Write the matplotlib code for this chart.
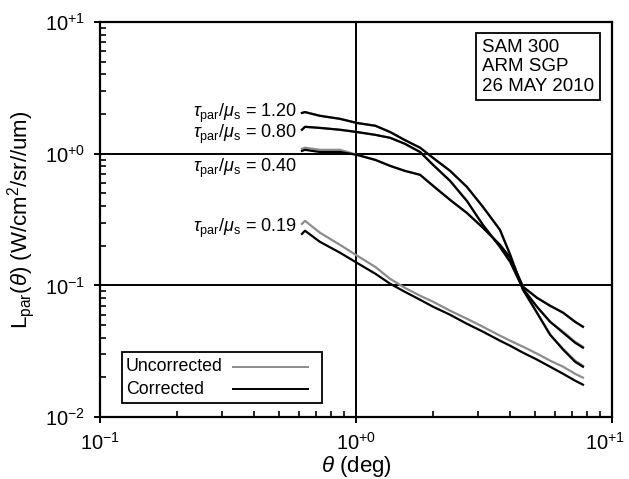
import matplotlib
matplotlib.use('Agg')
import matplotlib.pyplot as plt
from matplotlib.patches import Rectangle
from matplotlib.transforms import ScaledTranslation
from matplotlib.ticker import FixedLocator, FixedFormatter, LogLocator, NullFormatter

plt.rcParams['font.family'] = ['Liberation Sans', 'DejaVu Sans']
plt.rcParams['mathtext.fontset'] = 'custom'
plt.rcParams['mathtext.rm'] = 'Liberation Sans'
plt.rcParams['mathtext.it'] = 'Liberation Sans:italic'
plt.rcParams['mathtext.sf'] = 'Liberation Sans'

# scattering angle (deg), shared by every curve
theta = [0.615, 0.632, 0.723, 0.866, 1.01, 1.19, 1.36, 1.55, 1.78, 2.00, 2.33,
         2.71, 3.13, 3.65, 4.00, 4.49, 5.09, 5.73, 6.44, 7.17, 7.70]

# radiance, corrected
L120_corr = [2.04, 2.07, 1.94, 1.84, 1.71, 1.63, 1.46, 1.27, 1.11, 0.929, 0.741,
             0.560, 0.395, 0.264, 0.171, 0.0926, 0.0620, 0.0422, 0.0325, 0.0263, 0.0241]
L080_corr = [1.52, 1.60, 1.57, 1.52, 1.46, 1.39, 1.32, 1.19, 1.03, 0.822, 0.622,
             0.438, 0.288, 0.196, 0.151, 0.0942, 0.0688, 0.0529, 0.0437, 0.0367, 0.0336]
L040_corr = [1.05, 1.07, 1.03, 1.03, 0.979, 0.897, 0.808, 0.741, 0.691, 0.570, 0.446,
             0.355, 0.274, 0.203, 0.162, 0.0976, 0.0805, 0.0700, 0.0620, 0.0529, 0.0485]
L019_corr = [0.246, 0.260, 0.214, 0.177, 0.148, 0.1225, 0.1028, 0.0894, 0.0777, 0.0688, 0.0598,
             0.0511, 0.0445, 0.0380, 0.0348, 0.0308, 0.0273, 0.0241, 0.0213, 0.0189, 0.0176]

# radiance, uncorrected
L120_unc = [2.04, 2.07, 1.94, 1.84, 1.71, 1.63, 1.46, 1.27, 1.11, 0.929, 0.741,
            0.560, 0.395, 0.264, 0.171, 0.0926, 0.0620, 0.0422, 0.0330, 0.0268, 0.0245]
L080_unc = [1.52, 1.60, 1.57, 1.52, 1.46, 1.39, 1.32, 1.19, 1.03, 0.822, 0.622,
            0.438, 0.288, 0.196, 0.151, 0.0942, 0.0688, 0.0529, 0.0445, 0.0373, 0.0342]
L040_unc = [1.09, 1.11, 1.07, 1.07, 0.979, 0.897, 0.808, 0.741, 0.691, 0.570, 0.446,
            0.355, 0.274, 0.203, 0.162, 0.0976, 0.0805, 0.0700, 0.0620, 0.0529, 0.0485]
L019_unc = [0.293, 0.309, 0.251, 0.203, 0.168, 0.138, 0.112, 0.0959, 0.0834, 0.0751, 0.0642,
            0.0558, 0.0485, 0.0415, 0.0380, 0.0342, 0.0303, 0.0268, 0.0241, 0.0213, 0.0199]

tau_labels = ['1.20', '0.80', '0.40', '0.19']
tau_label_y = [1.90, 1.318, 0.728, 0.255]

decades = [0.01, 0.1, 1, 10]
decade_labels = [r'$10^{-2}$', r'$10^{-1}$', r'$10^{+0}$', r'$10^{+1}$']

GRAY = '#8c8c8c'

fig = plt.figure(figsize=(6.29, 4.79), dpi=100)
ax = fig.add_axes([0.159, 0.1294, 0.814, 0.8246])

for yu in [L120_unc, L080_unc, L040_unc, L019_unc]:
    ax.plot(theta, yu, color=GRAY, lw=1.6, zorder=3)
for yc in [L120_corr, L080_corr, L040_corr, L019_corr]:
    ax.plot(theta, yc, color='black', lw=1.6, zorder=4)

ax.set_xscale('log')
ax.set_yscale('log')
ax.set_xlim(0.1, 10)
ax.set_ylim(0.01, 10)

for a, lims in ((ax.xaxis, decades[1:]), (ax.yaxis, decades)):
    a.set_major_locator(FixedLocator(lims))
    a.set_major_formatter(FixedFormatter([decade_labels[decades.index(v)] for v in lims]))
    a.set_minor_locator(LogLocator(base=10, subs=range(2, 10), numticks=20))
    a.set_minor_formatter(NullFormatter())

ax.tick_params(which='major', direction='inout', length=9, width=1.4, labelsize=14.5,
               pad=6, top=False, right=False)
ax.tick_params(which='minor', direction='in', length=4, width=1.2, top=False, right=False)
ax.grid(which='major', color='black', lw=1.4)
for s in ax.spines.values():
    s.set_linewidth(1.6)

# pull the rightmost x tick label in a little so it stays on the canvas
last = ax.get_xticklabels()[-1]
last.set_transform(last.get_transform() + ScaledTranslation(-5 / 72, 0, fig.dpi_scale_trans))

for lab, yl in zip(tau_labels, tau_label_y):
    ax.text(0.588, yl, r'$\tau_{\rm par}/\mu_{\rm s}$ = ' + lab, ha='right', va='baseline',
            fontsize=13, zorder=5)

ax.text(0.746, 0.958, 'SAM 300\nARM SGP\n26 MAY 2010', transform=ax.transAxes,
        ha='left', va='top', fontsize=13.5, linespacing=1.2,
        bbox=dict(boxstyle='square,pad=0.3', fc='white', ec='black', lw=1.3))

# legend box drawn by hand: labels left-aligned, sample lines on the right
ax.add_patch(Rectangle((0.043, 0.0354), 0.3906, 0.1292, transform=ax.transAxes,
                       fc='white', ec='black', lw=1.3, zorder=6))
for lab, col, yy in (('Uncorrected', GRAY, 0.127), ('Corrected', 'black', 0.070)):
    ax.text(0.051, yy, lab, transform=ax.transAxes, ha='left', va='center',
            fontsize=12.8, zorder=7)
    ax.plot([0.26, 0.406], [yy, yy], transform=ax.transAxes, color=col, lw=1.4, zorder=7)

ax.set_xlabel(r'$\theta$ (deg)', fontsize=16, labelpad=0)
ax.set_ylabel(r'L$_{\rm par}$($\theta$) (W/cm$^2$/sr//um)', fontsize=16, labelpad=6)

fig.savefig('out.png', dpi=100)
